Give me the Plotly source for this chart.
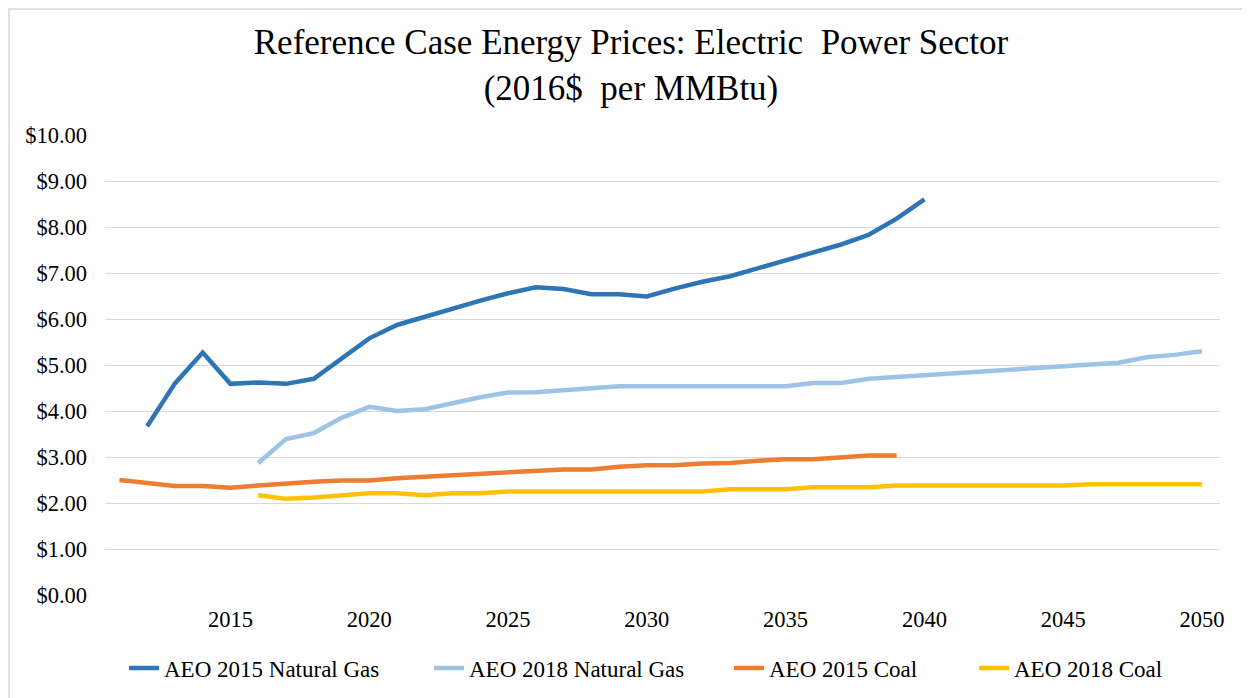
import plotly.graph_objects as go

years_ng15 = list(range(2012, 2041))
ng15 = [3.67, 4.60, 5.27, 4.59, 4.62, 4.59, 4.70, 5.15, 5.58, 5.87,
        6.05, 6.23, 6.40, 6.56, 6.69, 6.65, 6.54, 6.54, 6.49, 6.66,
        6.81, 6.93, 7.10, 7.26, 7.43, 7.62, 7.83, 8.18, 8.60]

years_ng18 = list(range(2016, 2051))
ng18 = [2.87, 3.39, 3.52, 3.85, 4.09, 4.00, 4.04, 4.17, 4.30, 4.40,
        4.41, 4.45, 4.50, 4.54, 4.54, 4.54, 4.54, 4.54, 4.54, 4.54,
        4.61, 4.61, 4.70, 4.74, 4.77, 4.81, 4.85, 4.89, 4.93, 4.98,
        5.02, 5.05, 5.17, 5.22, 5.30]

years_c15 = list(range(2011, 2040))
coal15 = [2.50, 2.44, 2.37, 2.37, 2.33, 2.38, 2.43, 2.46, 2.49, 2.49,
          2.54, 2.57, 2.60, 2.64, 2.66, 2.69, 2.73, 2.73, 2.79, 2.82,
          2.82, 2.86, 2.87, 2.92, 2.95, 2.95, 2.99, 3.03, 3.03]

years_c18 = list(range(2016, 2051))
coal18 = [2.17, 2.09, 2.12, 2.16, 2.21, 2.21, 2.17, 2.21, 2.21, 2.25,
          2.25, 2.25, 2.25, 2.25, 2.25, 2.25, 2.25, 2.30, 2.30, 2.30,
          2.34, 2.34, 2.34, 2.38, 2.38, 2.38, 2.38, 2.38, 2.38, 2.38,
          2.41, 2.41, 2.41, 2.41, 2.41]

names = ["AEO 2015 Natural Gas", "AEO 2018 Natural Gas", "AEO 2015 Coal", "AEO 2018 Coal"]
colors = ["#2E75B6", "#9DC3E6", "#ED7D31", "#FFC000"]

x_ticks = [2015, 2020, 2025, 2030, 2035, 2040, 2045, 2050]
y_ticks = [0, 1, 2, 3, 4, 5, 6, 7, 8, 9, 10]
y_labels = ["$%.2f" % v for v in y_ticks]

FONT = "Liberation Serif, Times New Roman, serif"

# page body has an 8px margin; figure sized to fit the 1250x698 window
OFF = 8
W, H = 1250 - OFF, 698 - OFF
ml, mr, mt, mb = 105 - OFF, 30, 135 - OFF, 103
pw, ph = W - ml - mr, H - mt - mb

# legend entries placed individually (text start x in window px)
legend_text_x = [165, 470, 770, 1015]
legend_keys = ["legend", "legend2", "legend3", "legend4"]

fig = go.Figure()
for xs, ys, nm, col, lk in zip([years_ng15, years_ng18, years_c15, years_c18],
                               [ng15, ng18, coal15, coal18], names, colors, legend_keys):
    fig.add_trace(go.Scatter(x=xs, y=ys, mode="lines", name=nm,
                             line=dict(color=col, width=4.5),
                             legend=lk, hoverinfo="x+y"))

fig.update_layout(
    width=W, height=H,
    margin=dict(l=ml, r=mr, t=mt, b=mb, pad=0, autoexpand=False),
    paper_bgcolor="white", plot_bgcolor="white",
    font=dict(family=FONT, size=22.5, color="#000000"),
    title=dict(text="Reference Case Energy Prices: Electric  Power Sector<br>(2016$  per MMBtu)",
               font=dict(family=FONT, size=35, color="#000000"),
               x=(631 - OFF) / W, xanchor="center", xref="container",
               y=(H - 46) / H, yanchor="middle", yref="container"),
    xaxis=dict(range=[2010.48, 2050.65], tickvals=x_ticks, ticktext=[str(v) for v in x_ticks],
               showgrid=False, zeroline=False, showline=False, ticks="",
               ticklabelstandoff=8, tickfont=dict(size=22.5)),
    yaxis=dict(range=[0, 10], tickvals=y_ticks, ticktext=y_labels,
               showgrid=True, gridcolor="#D9D9D9", gridwidth=1.3,
               zeroline=False, showline=False, ticks="",
               ticklabelstandoff=17, tickfont=dict(size=22.5)),
    showlegend=True,
)

for lk, tx in zip(legend_keys, legend_text_x):
    fig.update_layout({lk: dict(orientation="h", x=(tx - OFF - 41) / W, xanchor="left", xref="container",
                                y=(H - (668 - OFF)) / H, yanchor="middle", yref="container",
                                font=dict(family=FONT, size=23), itemwidth=30,
                                bgcolor="rgba(0,0,0,0)", borderwidth=0)})

# outer chart border (light gray), visible on left and top
fig.add_shape(type="rect", xref="paper", yref="paper",
              x0=(1 - ml) / pw, x1=(W + 20 - ml) / pw,
              y0=-(H + 20 - mt - ph) / ph, y1=1 + (mt - 1) / ph,
              line=dict(color="#D9D9D9", width=1.5), fillcolor="rgba(0,0,0,0)",
              layer="below")

fig.write_html("out.html")
